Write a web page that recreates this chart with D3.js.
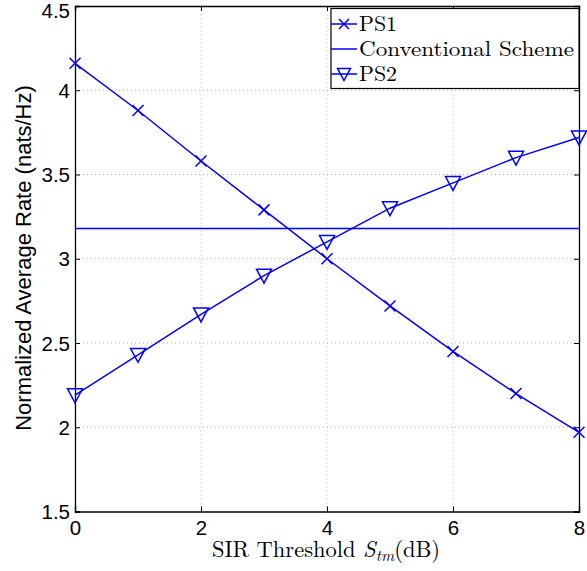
<!DOCTYPE html>
<html><head><meta charset="utf-8">
<script src="https://cdn.jsdelivr.net/npm/d3@7"></script>
<style>body{margin:0;background:#fff}svg{display:block}</style>
</head><body>
<script>
const xValues = [0,1,2,3,4,5,6,7,8];
const ps1 = [4.16,3.88,3.58,3.29,3.00,2.72,2.45,2.20,1.97];
const conventional = [3.18,3.18,3.18,3.18,3.18,3.18,3.18,3.18,3.18];
const ps2 = [2.19,2.43,2.67,2.90,3.10,3.30,3.45,3.60,3.72];
const xTicks = [0,2,4,6,8];
const yTicks = [1.5,2,2.5,3,3.5,4,4.5];
const seriesNames = ["PS1","Conventional Scheme","PS2"];

const W=587,H=571;
const svg=d3.select("body").append("svg").attr("width",W).attr("height",H);
const x=d3.scaleLinear().domain([0,8]).range([75,579]);
const y=d3.scaleLinear().domain([1.5,4.5]).range([511.5,6]);
const blue="#0000ff";
const sans="Liberation Sans, Arial, sans-serif";
const serif="Latin Modern Roman, DejaVu Serif, Liberation Serif, serif";

// grid
const g=svg.append("g");
g.selectAll(".gx").data(xTicks.slice(1,-1)).join("line")
 .attr("x1",d=>x(d)).attr("x2",d=>x(d)).attr("y1",y(1.5)).attr("y2",y(4.5))
 .attr("stroke","#b0b0b0").attr("stroke-width",1).attr("stroke-dasharray","1,3");
g.selectAll(".gy").data(yTicks.slice(1,-1)).join("line")
 .attr("x1",x(0)).attr("x2",x(8)).attr("y1",d=>y(d)).attr("y2",d=>y(d))
 .attr("stroke","#b0b0b0").attr("stroke-width",1).attr("stroke-dasharray","1,3");

// axes
const ax=svg.append("g").attr("transform",`translate(0,${y(1.5)})`)
 .call(d3.axisBottom(x).tickValues(xTicks).tickSize(-5).tickPadding(9).tickFormat(d3.format("d")));
const ay=svg.append("g").attr("transform",`translate(${x(0)},0)`)
 .call(d3.axisLeft(y).tickValues(yTicks).tickSize(-5).tickPadding(5).tickFormat(d=>d3.format("")(d)));
const axT=svg.append("g").attr("transform",`translate(0,${y(4.5)})`)
 .call(d3.axisTop(x).tickValues(xTicks).tickSize(-5).tickFormat(""));
const ayR=svg.append("g").attr("transform",`translate(${x(8)},0)`)
 .call(d3.axisRight(y).tickValues(yTicks).tickSize(-5).tickFormat(""));
[ax,ay,axT,ayR].forEach(a=>{
  a.select(".domain").attr("stroke","#000").attr("stroke-width",1.3);
  a.selectAll(".tick line").attr("stroke","#000");
  a.selectAll("text").attr("font-family",sans).attr("font-size",20.5).attr("fill","#000");
});
ax.selectAll("text").attr("dy","0.71em");
ay.selectAll("text").attr("dy",d=>d===4.5?"0.55em":"0.35em");

// lines
const line=d3.line().x((d,i)=>x(xValues[i])).y(d=>y(d));
[ps1,conventional,ps2].forEach(s=>{
  svg.append("path").datum(s).attr("d",line).attr("fill","none").attr("stroke",blue).attr("stroke-width",1.5);
});
// markers
function cross(sel,cx,cy,r){
  sel.append("path").attr("d",`M${cx-r},${cy-r}L${cx+r},${cy+r}M${cx-r},${cy+r}L${cx+r},${cy-r}`)
   .attr("stroke",blue).attr("stroke-width",1.5).attr("fill","none");
}
function tri(sel,cx,cy,r){
  sel.append("path").attr("d",`M${cx-r},${cy-r*0.85}L${cx+r},${cy-r*0.85}L${cx},${cy+r}Z`)
   .attr("stroke",blue).attr("stroke-width",1.5).attr("fill","none");
}
const mk=svg.append("g");
ps1.forEach((v,i)=>cross(mk,x(xValues[i]),y(v),5.5));
ps2.forEach((v,i)=>tri(mk,x(xValues[i]),y(v),7.5));

// legend
const lg=svg.append("g");
lg.append("rect").attr("x",331).attr("y",8.5).attr("width",248).attr("height",80)
 .attr("fill","#fff").attr("stroke","#000").attr("stroke-width",1.2);
const ly=[24,49,74];
seriesNames.forEach((n,i)=>{
  lg.append("line").attr("x1",331).attr("x2",357).attr("y1",ly[i]).attr("y2",ly[i]).attr("stroke",blue).attr("stroke-width",1.5);
  if(i===0) cross(lg,344,ly[i],5);
  if(i===2) tri(lg,344,ly[i],6.5);
  const t=lg.append("text").attr("x",359).attr("y",ly[i]).attr("dy","0.35em").attr("font-family",serif).attr("font-size",21).attr("fill","#000").text(n);
  if(i===1) t.attr("textLength",215).attr("lengthAdjust","spacingAndGlyphs");
  else t.attr("textLength",38).attr("lengthAdjust","spacingAndGlyphs");
});

// axis labels
const xl=svg.append("text").attr("x",326).attr("y",557).attr("text-anchor","middle")
 .attr("font-family",serif).attr("font-size",22.5).attr("fill","#000");
xl.append("tspan").text("SIR Threshold ");
xl.append("tspan").attr("font-style","italic").text("S");
xl.append("tspan").attr("font-style","italic").attr("font-size",16).attr("dy",4).text("tm");
xl.append("tspan").attr("dy",-4).text("(dB)");
svg.append("text").attr("transform",`translate(31,258) rotate(-90)`).attr("text-anchor","middle")
 .attr("font-family",sans).attr("font-size",22).attr("fill","#000").text("Normalized Average Rate (nats/Hz)");
</script>
</body></html>
